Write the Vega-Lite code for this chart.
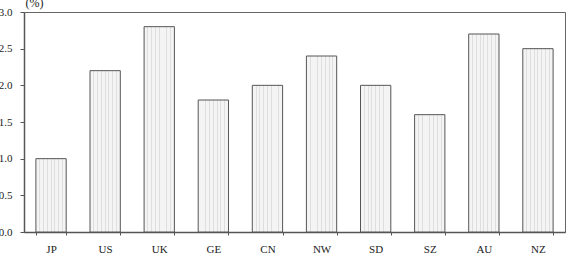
{
  "$schema": "https://vega.github.io/schema/vega-lite/v6.json",
  "autosize": "none",
  "width": 541,
  "height": 220,
  "padding": {"left": 24, "top": 12, "right": 10, "bottom": 21},
  "background": "white",
  "config": {
    "font": "Liberation Serif",
    "view": {"stroke": "#666", "strokeWidth": 1},
    "axis": {"labelFont": "Liberation Serif", "titleFont": "Liberation Serif", "labelColor": "#222", "domainColor": "#555", "tickColor": "#555", "grid": false}
  },
  "data": {
    "values": [
      {"country": "JP", "value": 1.0},
      {"country": "US", "value": 2.2},
      {"country": "UK", "value": 2.8},
      {"country": "GE", "value": 1.8},
      {"country": "CN", "value": 2.0},
      {"country": "NW", "value": 2.4},
      {"country": "SD", "value": 2.0},
      {"country": "SZ", "value": 1.6},
      {"country": "AU", "value": 2.7},
      {"country": "NZ", "value": 2.5}
    ]
  },
  "mark": {
    "type": "bar",
    "fill": {
      "gradient": "linear",
      "x1": 0, "y1": 0, "x2": 1, "y2": 0,
      "stops": [
        {"offset": 0, "color": "#f4f4f4"},
        {"offset": 0.11, "color": "#f4f4f4"},
        {"offset": 0.11, "color": "#dedede"},
        {"offset": 0.14, "color": "#dedede"},
        {"offset": 0.14, "color": "#f4f4f4"},
        {"offset": 0.235, "color": "#f4f4f4"},
        {"offset": 0.235, "color": "#dedede"},
        {"offset": 0.265, "color": "#dedede"},
        {"offset": 0.265, "color": "#f4f4f4"},
        {"offset": 0.36, "color": "#f4f4f4"},
        {"offset": 0.36, "color": "#dedede"},
        {"offset": 0.39, "color": "#dedede"},
        {"offset": 0.39, "color": "#f4f4f4"},
        {"offset": 0.485, "color": "#f4f4f4"},
        {"offset": 0.485, "color": "#dedede"},
        {"offset": 0.515, "color": "#dedede"},
        {"offset": 0.515, "color": "#f4f4f4"},
        {"offset": 0.61, "color": "#f4f4f4"},
        {"offset": 0.61, "color": "#dedede"},
        {"offset": 0.64, "color": "#dedede"},
        {"offset": 0.64, "color": "#f4f4f4"},
        {"offset": 0.735, "color": "#f4f4f4"},
        {"offset": 0.735, "color": "#dedede"},
        {"offset": 0.765, "color": "#dedede"},
        {"offset": 0.765, "color": "#f4f4f4"},
        {"offset": 0.86, "color": "#f4f4f4"},
        {"offset": 0.86, "color": "#dedede"},
        {"offset": 0.89, "color": "#dedede"},
        {"offset": 0.89, "color": "#f4f4f4"},
        {"offset": 1, "color": "#f4f4f4"}
      ]
    },
    "stroke": "#555",
    "strokeWidth": 1
  },
  "encoding": {
    "x": {
      "field": "country",
      "type": "nominal",
      "sort": null,
      "scale": {"paddingInner": 0.44, "paddingOuter": 0.22},
      "axis": {"title": null, "labelAngle": 0, "labelFontSize": 11, "tickBand": "extent", "tickSize": 3, "labelPadding": 8, "domainWidth": 1.5}
    },
    "y": {
      "field": "value",
      "type": "quantitative",
      "scale": {"domain": [0, 3]},
      "axis": {"values": [0, 0.5, 1, 1.5, 2, 2.5, 3], "format": ".1f", "labelFontSize": 11, "tickSize": 4, "labelPadding": 8, "domainWidth": 1.5, "title": "(%)", "titleAngle": 0, "titleX": 1, "titleY": -10, "titleAlign": "left", "titleBaseline": "middle", "titleFontSize": 12, "titleFontWeight": "normal", "titleColor": "#222"}
    }
  }
}
